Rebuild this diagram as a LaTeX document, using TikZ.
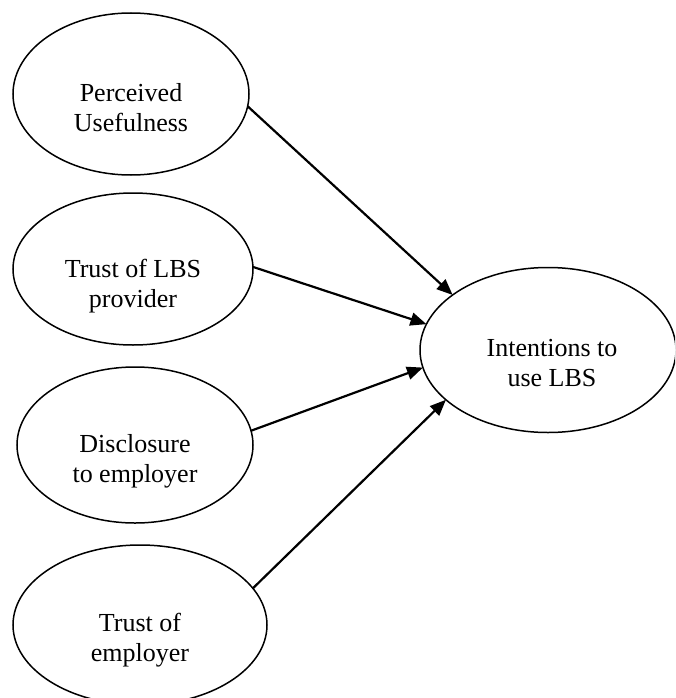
\documentclass[tikz,border=0pt]{standalone}
\usepackage{fontspec}
\setmainfont{Liberation Serif}
\usetikzlibrary{shapes.geometric,arrows.meta}

\tikzset{
  oval/.style={ellipse, draw, line width=1.5pt, inner sep=0pt, outer sep=0pt},
  lbl/.style={align=center, inner sep=0pt, font=\fontsize{26}{30}\selectfont},
  link/.style={line width=2.2pt, -{Triangle[length=16pt,width=13pt]}}
}

\begin{document}
\begin{tikzpicture}[x=1pt, y=-1pt]
  \useasboundingbox (0,0) rectangle (675,698);
  \clip (0,0) rectangle (675,698);

  % constructs
  \node[oval, minimum width=236pt, minimum height=162pt] (pu) at (131,94) {};
  \node[oval, minimum width=240pt, minimum height=152pt] (tp) at (133,269) {};
  \node[oval, minimum width=236pt, minimum height=156pt] (de) at (135,445) {};
  \node[oval, minimum width=254pt, minimum height=160pt] (te) at (140,625) {};
  \node[oval, minimum width=256pt, minimum height=165pt] (iu) at (548,350) {};

  % labels
  \node[lbl] (pu-t) at (131,108) {Perceived\\Usefulness};
  \node[lbl] (tp-t) at (133,286) {Trust of LBS\\provider};
  \node[lbl] (de-t) at (135,461) {Disclosure\\to employer};
  \node[lbl] (te-t) at (140,640) {Trust of\\employer};
  \node[lbl] (iu-t) at (552,363) {Intentions to\\use LBS};

  % paths
  \draw[link] (pu.-6) -- (iu.150);
  \draw[link] (tp.1)  -- (iu.168);
  \draw[link] (de.7)  -- (iu.188);
  \draw[link] (te.18) -- (iu.206);
\end{tikzpicture}
\end{document}
